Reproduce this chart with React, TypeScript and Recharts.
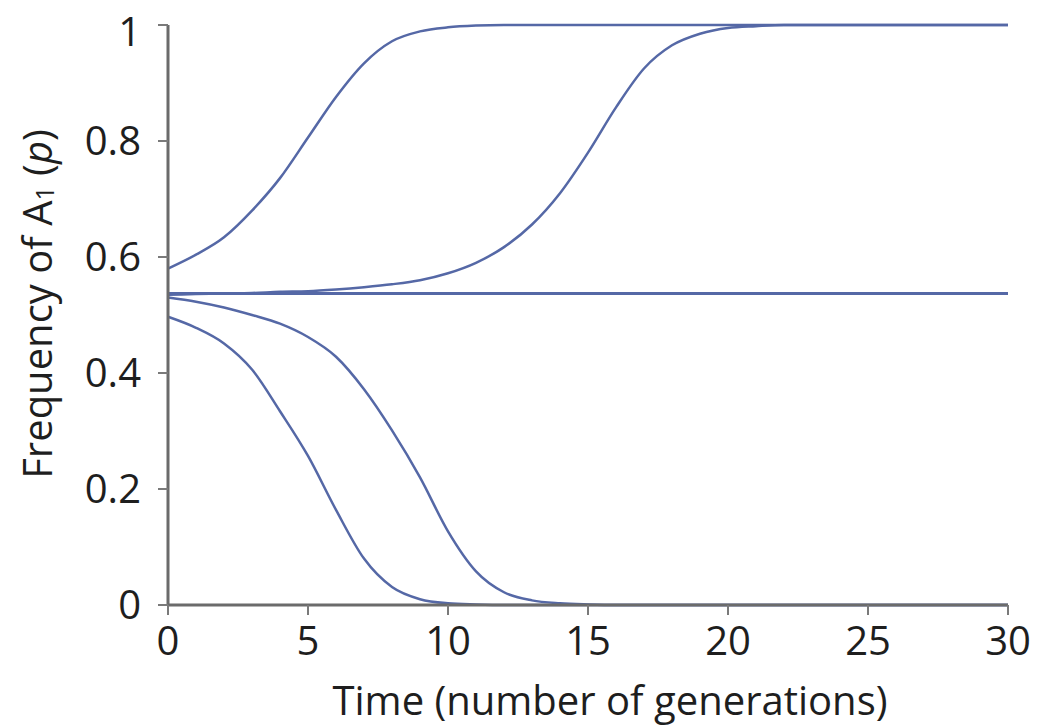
import { LineChart, Line, XAxis, YAxis, Label } from 'recharts';

const generations = [0, 1, 2, 3, 4, 5, 6, 7, 8, 9, 10, 11, 12, 13, 14, 15, 16, 17, 18, 19, 20, 21, 22, 23, 24, 25, 26, 27, 28, 29, 30];

const fastRise = [0.58, 0.604, 0.634, 0.68, 0.736, 0.806, 0.876, 0.934, 0.972, 0.989, 0.996, 0.999, 1, 1, 1, 1, 1, 1, 1, 1, 1, 1, 1, 1, 1, 1, 1, 1, 1, 1, 1];
const slowRise = [0.535, 0.536, 0.537, 0.538, 0.54, 0.541, 0.544, 0.548, 0.553, 0.56, 0.572, 0.59, 0.617, 0.656, 0.71, 0.78, 0.858, 0.925, 0.965, 0.985, 0.995, 0.998, 1, 1, 1, 1, 1, 1, 1, 1, 1];
const neutral = [0.537, 0.537, 0.537, 0.537, 0.537, 0.537, 0.537, 0.537, 0.537, 0.537, 0.537, 0.537, 0.537, 0.537, 0.537, 0.537, 0.537, 0.537, 0.537, 0.537, 0.537, 0.537, 0.537, 0.537, 0.537, 0.537, 0.537, 0.537, 0.537, 0.537, 0.537];
const slowFall = [0.53, 0.523, 0.513, 0.5, 0.485, 0.462, 0.428, 0.372, 0.301, 0.22, 0.127, 0.058, 0.022, 0.008, 0.003, 0.001, 0, 0, 0, 0, 0, 0, 0, 0, 0, 0, 0, 0, 0, 0, 0];
const fastFall = [0.497, 0.478, 0.451, 0.406, 0.334, 0.257, 0.164, 0.08, 0.031, 0.01, 0.003, 0.001, 0, 0, 0, 0, 0, 0, 0, 0, 0, 0, 0, 0, 0, 0, 0, 0, 0, 0, 0];

const xTicks = [0, 5, 10, 15, 20, 25, 30];
const yTicks = [0, 0.2, 0.4, 0.6, 0.8, 1];

const data = generations.map((t, i) => ({
  t,
  fastRise: fastRise[i],
  slowRise: slowRise[i],
  neutral: neutral[i],
  slowFall: slowFall[i],
  fastFall: fastFall[i],
}));

const FONT = '"Open Sans", "Noto Sans", sans-serif';
const TEXT = '#1e1e1e';
const AXIS = '#6b6b6b';
const CURVE = '#5568a6';
const SIZE = 40;

const tickStyle = { fill: TEXT, fontSize: SIZE, fontFamily: FONT };

function XTitle({ viewBox }: any) {
  const { x, y, width } = viewBox;
  return (
    <text x={x + width / 2 + 22} y={y + 94} textAnchor="middle" dominantBaseline="central"
      fill={TEXT} fontSize={SIZE} fontFamily={FONT}>
      Time (number of generations)
    </text>
  );
}

function YTitle({ viewBox }: any) {
  const { x, y, height } = viewBox;
  const cx = x + 18;
  const cy = y + height / 2 - 11;
  return (
    <text x={cx} y={cy} transform={`rotate(-90 ${cx} ${cy})`} textAnchor="middle" dominantBaseline="central"
      fill={TEXT} fontSize={SIZE} fontFamily={FONT}>
      Frequency of A
      <tspan fontSize={25} dy={8}>1</tspan>
      <tspan dy={-8}> (</tspan>
      <tspan fontStyle="italic">p</tspan>
      <tspan>)</tspan>
    </text>
  );
}

export default function App() {
  const lines = ['fastRise', 'slowRise', 'neutral', 'slowFall', 'fastFall'];
  return (
    <div style={{ width: 1036, height: 718, fontFamily: FONT }}>
      <LineChart width={1036} height={718} data={data} margin={{ top: 17, right: 36, bottom: 21, left: 10 }}
        style={{ overflow: 'visible' }}>
        <XAxis
          dataKey="t"
          type="number"
          domain={[0, 30]}
          ticks={xTicks}
          height={100}
          tick={tickStyle}
          tickSize={10}
          tickMargin={12}
          axisLine={{ stroke: AXIS, strokeWidth: 3 }}
          tickLine={{ stroke: '#7a7a7a', strokeWidth: 2 }}
        >
          <Label content={XTitle} />
        </XAxis>
        <YAxis
          type="number"
          domain={[0, 1]}
          ticks={yTicks}
          width={150}
          tick={tickStyle}
          tickSize={10}
          tickMargin={17}
          tickFormatter={(v: number) => String(v)}
          axisLine={{ stroke: AXIS, strokeWidth: 3 }}
          tickLine={{ stroke: '#7a7a7a', strokeWidth: 2 }}
        >
          <Label content={YTitle} />
        </YAxis>
        {lines.map(key => (
          <Line
            key={key}
            dataKey={key}
            type="monotone"
            stroke={CURVE}
            strokeWidth={key === 'neutral' ? 3 : 2.5}
            dot={false}
            activeDot={false}
            isAnimationActive={false}
          />
        ))}
      </LineChart>
    </div>
  );
}
